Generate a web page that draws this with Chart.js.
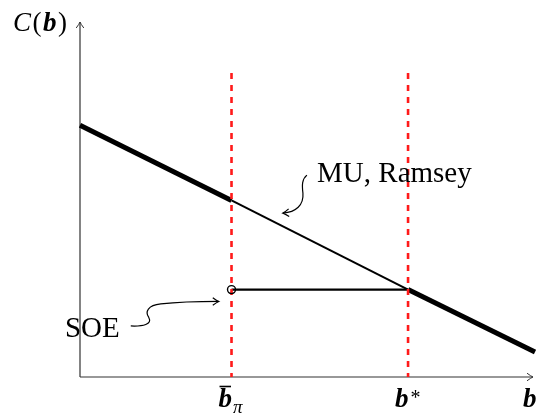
<!DOCTYPE html>
<html>
<head>
<meta charset="utf-8">
<script src="https://cdn.jsdelivr.net/npm/chart.js@4"></script>
<style>
  html, body { margin: 0; padding: 0; background: #fff; }
  #wrap { width: 537px; height: 420px; position: relative; }
</style>
</head>
<body>
<div id="wrap"><canvas id="costChart"></canvas></div>
<script>
// Cost curve C(b): breakpoints along b and the cost at each one
const bPoints = [0, 3.33, 7.21, 10];
const costPoints = [5.53, 3.88, 1.92, 0.55];

// marked levels on the b axis and the SOE cost level
const bPi = 3.33;
const bStar = 7.21;
const soeCost = 1.92;
const markerTop = 6.68;

// tick labels on the horizontal axis
const tickValues = [bPi, bStar, 10];
const tickBase = ['b', 'b', 'b'];
const tickSub = ['π', '', ''];
const tickSup = ['', '*', ''];
const tickBar = [true, false, false];

// annotations: text, text anchor and arrow tip (data units)
const noteText = ['MU, Ramsey', 'SOE'];
const noteAt = [[5.21, 4.29], [-0.33, 0.88]];
const noteTip = [[4.46, 3.60], [3.05, 1.66]];

const SERIF = '"Liberation Serif", "Times New Roman", serif';

const seg = (i, j) => bPoints.slice(i, j + 1).map((b, k) => ({ x: b, y: costPoints[i + k] }));

const arrowHead = (ctx, x, y, ang) => {
    const len = 6, w = 3.8;
    const dx = Math.cos(ang), dy = Math.sin(ang);
    const px = -dy, py = dx;
    ctx.beginPath();
    ctx.moveTo(x - dx * len + px * w, y - dy * len + py * w);
    ctx.quadraticCurveTo(x - dx * 2 + px * 0.8, y - dy * 2 + py * 0.8, x, y);
    ctx.quadraticCurveTo(x - dx * 2 - px * 0.8, y - dy * 2 - py * 0.8, x - dx * len - px * w, y - dy * len - py * w);
    ctx.stroke();
};

const axesPlugin = {
    id: 'axesPlugin',
    beforeDatasetsDraw(chart) {
        const { ctx, chartArea: a } = chart;
        ctx.save();
        ctx.strokeStyle = '#333';
        ctx.lineWidth = 1.2;
        ctx.beginPath();
        ctx.moveTo(a.left, a.bottom);
        ctx.lineTo(a.right - 2, a.bottom);
        ctx.moveTo(a.left, a.bottom);
        ctx.lineTo(a.left, a.top);
        ctx.stroke();
        ctx.lineWidth = 1;
        arrowHead(ctx, a.right - 2, a.bottom, 0);
        arrowHead(ctx, a.left, a.top, -Math.PI / 2);
        ctx.restore();
    },
    afterDatasetsDraw(chart) {
        const { ctx, chartArea: a, scales: { x, y } } = chart;
        ctx.save();
        ctx.fillStyle = '#000';
        ctx.strokeStyle = '#000';
        ctx.textBaseline = 'alphabetic';

        // y axis title C(b)
        let cx = 13;
        const titleBase = 31;
        [['italic 27px', 'C'], ['27px', '('], ['italic bold 27px', 'b'], ['27px', ')']].forEach(([f, t]) => {
            ctx.font = f + ' ' + SERIF;
            ctx.fillText(t, cx, titleBase);
            cx += ctx.measureText(t).width + 1.5;
        });

        // tick labels
        tickValues.forEach((v, i) => {
            const px = x.getPixelForValue(v);
            const left = px - (i === 2 ? 12 : 13);
            const base = a.bottom + 30;
            ctx.font = 'italic bold 27px ' + SERIF;
            ctx.fillText(tickBase[i], left, base);
            const w = ctx.measureText(tickBase[i]).width;
            if (tickBar[i]) {
                ctx.lineWidth = 1.6;
                ctx.beginPath();
                ctx.moveTo(left + 1, a.bottom + 9.5);
                ctx.lineTo(left + w - 1, a.bottom + 9.5);
                ctx.stroke();
            }
            if (tickSub[i]) {
                ctx.font = 'italic 19px ' + SERIF;
                ctx.fillText(tickSub[i], left + w + 1, base + 6);
            }
            if (tickSup[i]) {
                ctx.font = '20px ' + SERIF;
                ctx.fillText(tickSup[i], left + w + 2, base - 3);
            }
        });

        // annotations
        ctx.font = '29px ' + SERIF;
        noteText.forEach((t, i) => {
            ctx.fillText(t, x.getPixelForValue(noteAt[i][0]), y.getPixelForValue(noteAt[i][1]));
        });

        ctx.lineWidth = 1.2;
        // curly arrow to the MU, Ramsey line
        let tx = x.getPixelForValue(noteTip[0][0]);
        let ty = y.getPixelForValue(noteTip[0][1]);
        ctx.beginPath();
        ctx.moveTo(tx + 24, ty - 38);
        ctx.bezierCurveTo(tx + 19, ty - 34, tx + 19, ty - 28, tx + 20, ty - 20);
        ctx.bezierCurveTo(tx + 21, ty - 8, tx + 13, ty - 1, tx, ty);
        ctx.stroke();
        arrowHead(ctx, tx, ty, Math.atan2(1, -13));

        // curly arrow to the SOE point
        tx = x.getPixelForValue(noteTip[1][0]);
        ty = y.getPixelForValue(noteTip[1][1]);
        ctx.beginPath();
        ctx.moveTo(tx - 88, ty + 24.5);
        ctx.bezierCurveTo(tx - 76, ty + 25, tx - 66, ty + 23, tx - 70, ty + 16);
        ctx.bezierCurveTo(tx - 74, ty + 10, tx - 71, ty + 4, tx - 58, ty + 2.5);
        ctx.bezierCurveTo(tx - 40, ty + 0.5, tx - 20, ty, tx, ty);
        ctx.stroke();
        arrowHead(ctx, tx, ty, Math.atan2(0, 1));
        ctx.restore();
    }
};

new Chart(document.getElementById('costChart'), {
    type: 'scatter',
    data: {
        datasets: [
            // SOE point
            { data: [{ x: bPi, y: soeCost }], pointRadius: 4, pointBorderWidth: 1.4,
              pointBackgroundColor: 'rgba(0,0,0,0)', pointBorderColor: '#000', order: 1 },
            // red dashed markers
            { data: [{ x: bPi, y: markerTop }, { x: bPi, y: 0 }], showLine: true, borderColor: '#ff1a1a',
              borderWidth: 2.6, borderDash: [6, 6], pointRadius: 0, order: 2 },
            { data: [{ x: bStar, y: markerTop }, { x: bStar, y: 0 }], showLine: true, borderColor: '#ff1a1a',
              borderWidth: 2.6, borderDash: [6, 6], pointRadius: 0, order: 2 },
            // SOE level
            { data: [{ x: bPi, y: soeCost }, { x: bStar, y: soeCost }], showLine: true, borderColor: '#000',
              borderWidth: 2.4, pointRadius: 0, order: 3 },
            // cost curve: thick, thin, thick
            { data: seg(0, 1), showLine: true, borderColor: '#000', borderWidth: 5, pointRadius: 0, order: 4 },
            { data: seg(1, 2), showLine: true, borderColor: '#000', borderWidth: 2, pointRadius: 0, order: 4 },
            { data: seg(2, 3), showLine: true, borderColor: '#000', borderWidth: 5, pointRadius: 0, order: 4 }
        ]
    },
    options: {
        responsive: true,
        maintainAspectRatio: false,
        animation: false,
        clip: false,
        layout: { autoPadding: false, padding: { left: 80, right: 2, top: 22, bottom: 43 } },
        plugins: { legend: { display: false }, tooltip: { enabled: false } },
        scales: {
            x: { type: 'linear', min: 0, max: 10, display: false },
            y: { type: 'linear', min: 0, max: 7.8, display: false }
        }
    },
    plugins: [axesPlugin]
});
</script>
</body>
</html>
